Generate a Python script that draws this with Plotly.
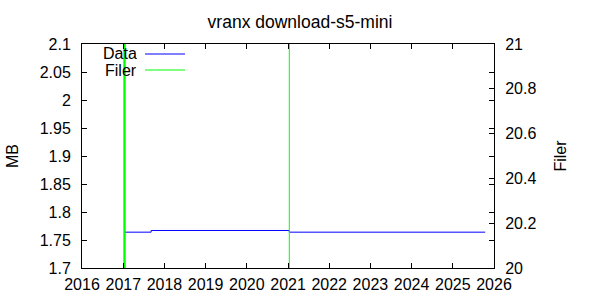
import plotly.graph_objects as go

# ---- data ----
data_dates = ["2017-01-12", "2017-09-05", "2021-01-12", "2025-10-15"]
data_mb = [1.764, 1.767, 1.764, 1.764]

filer_dates = ["2017-01-06", "2017-01-12", "2017-01-18", "2021-01-12"]
filer_counts = [21, 21, 21, 21]

x_tickvals = [f"{y}-01-01" for y in range(2016, 2027)]
x_ticktext = [str(y) for y in range(2016, 2027)]
y_tickvals = [1.7, 1.75, 1.8, 1.85, 1.9, 1.95, 2.0, 2.05, 2.1]
y_ticktext = ["1.7", "1.75", "1.8", "1.85", "1.9", "1.95", "2", "2.05", "2.1"]
y2_tickvals = [20, 20.2, 20.4, 20.6, 20.8, 21]
y2_ticktext = ["20", "20.2", "20.4", "20.6", "20.8", "21"]

FONT = "Liberation Sans, Arial, sans-serif"
BLUE = "#0000ff"
GREEN = "#00ff00"

fig = go.Figure()

# Filer impulses (from axis bottom up to value)
imp_x, imp_y = [], []
for d, c in zip(filer_dates, filer_counts):
    imp_x += [d, d, None]
    imp_y += [20, c, None]
fig.add_trace(go.Scatter(x=imp_x, y=imp_y, mode="lines", yaxis="y2",
                         line=dict(color=GREEN, width=1), name="Filer",
                         showlegend=False, hoverinfo="skip"))

fig.add_trace(go.Scatter(x=data_dates, y=data_mb, mode="lines", line_shape="hv",
                         line=dict(color=BLUE, width=1), name="Data",
                         showlegend=False))

axis_common = dict(showgrid=False, zeroline=False, showline=True, linecolor="black",
                   linewidth=1, ticks="inside", ticklen=5, tickcolor="black",
                   automargin=False,
                   tickfont=dict(family=FONT, size=16, color="black"))

fig.update_layout(
    width=600, height=300,
    margin=dict(l=82, r=106, t=44, b=32),
    paper_bgcolor="white", plot_bgcolor="white",
    font=dict(family=FONT, size=16, color="black"),
    title=dict(text="vranx download-s5-mini", x=0.5, xanchor="center",
               y=1 - 22 / 300, yanchor="middle", font=dict(family=FONT, size=17.5)),
    xaxis=dict(type="date", range=["2016-01-01", "2026-01-01"], tickvals=x_tickvals,
               ticktext=x_ticktext, mirror="ticks", ticklabelstandoff=2, **axis_common),
    yaxis=dict(range=[1.7, 2.1], tickvals=y_tickvals, ticktext=y_ticktext,
               mirror="ticks", ticklabelstandoff=7,
               title=dict(text="MB", standoff=17, font=dict(family=FONT, size=16)),
               **axis_common),
    yaxis2=dict(range=[20, 21], tickvals=y2_tickvals, ticktext=y2_ticktext,
                overlaying="y", side="right", ticklabelstandoff=7,
                title=dict(text="Filer", standoff=19, font=dict(family=FONT, size=16)),
                **axis_common),
    showlegend=False,
)

# gnuplot-style key: label right-aligned, sample line to its right
key_items = [("Data", BLUE), ("Filer", GREEN)]
for i, (label, col) in enumerate(key_items):
    ypx = 54 + i * 16
    fig.add_annotation(text=label, xref="paper", yref="paper",
                       x=(138 - 82) / 412, y=(268 - ypx) / 224,
                       xanchor="right", yanchor="middle", showarrow=False,
                       height=15, borderpad=0,
                       font=dict(family=FONT, size=16, color="black"))
    fig.add_shape(type="line", xref="paper", yref="paper",
                  x0=(145 - 82) / 412, x1=(185 - 82) / 412,
                  y0=(268 - ypx) / 224, y1=(268 - ypx) / 224,
                  line=dict(color=col, width=1))

fig.write_html("out.html")
